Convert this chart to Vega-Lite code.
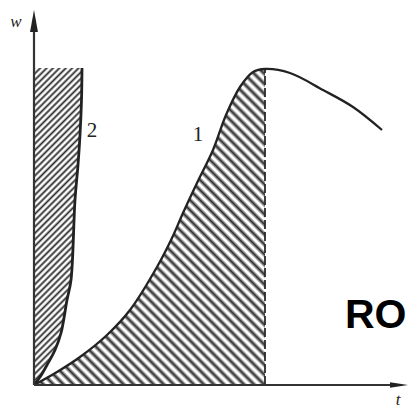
{
  "$schema": "https://vega.github.io/schema/vega-lite/v6.json",
  "width": 410,
  "height": 409,
  "autosize": {"type": "none"},
  "padding": 0,
  "background": "white",
  "config": {"view": {"stroke": null}, "axis": {"disable": true}},
  "params": [
    {
      "name": "hatch",
      "value": [
        {"offset":0,"color":"#2b2b2b"},{"offset":0.0067,"color":"#fff"},{"offset":0.01,"color":"#fff"},
        {"offset":0.0167,"color":"#2b2b2b"},{"offset":0.0233,"color":"#fff"},{"offset":0.0267,"color":"#fff"},
        {"offset":0.0333,"color":"#2b2b2b"},{"offset":0.04,"color":"#fff"},{"offset":0.0433,"color":"#fff"},
        {"offset":0.05,"color":"#2b2b2b"},{"offset":0.0567,"color":"#fff"},{"offset":0.06,"color":"#fff"},
        {"offset":0.0667,"color":"#2b2b2b"},{"offset":0.0733,"color":"#fff"},{"offset":0.0767,"color":"#fff"},
        {"offset":0.0833,"color":"#2b2b2b"},{"offset":0.09,"color":"#fff"},{"offset":0.0933,"color":"#fff"},
        {"offset":0.1,"color":"#2b2b2b"},{"offset":0.1067,"color":"#fff"},{"offset":0.11,"color":"#fff"},
        {"offset":0.1167,"color":"#2b2b2b"},{"offset":0.1233,"color":"#fff"},{"offset":0.1267,"color":"#fff"},
        {"offset":0.1333,"color":"#2b2b2b"},{"offset":0.14,"color":"#fff"},{"offset":0.1433,"color":"#fff"},
        {"offset":0.15,"color":"#2b2b2b"},{"offset":0.1567,"color":"#fff"},{"offset":0.16,"color":"#fff"},
        {"offset":0.1667,"color":"#2b2b2b"},{"offset":0.1733,"color":"#fff"},{"offset":0.1767,"color":"#fff"},
        {"offset":0.1833,"color":"#2b2b2b"},{"offset":0.19,"color":"#fff"},{"offset":0.1933,"color":"#fff"},
        {"offset":0.2,"color":"#2b2b2b"},{"offset":0.2067,"color":"#fff"},{"offset":0.21,"color":"#fff"},
        {"offset":0.2167,"color":"#2b2b2b"},{"offset":0.2233,"color":"#fff"},{"offset":0.2267,"color":"#fff"},
        {"offset":0.2333,"color":"#2b2b2b"},{"offset":0.24,"color":"#fff"},{"offset":0.2433,"color":"#fff"},
        {"offset":0.25,"color":"#2b2b2b"},{"offset":0.2567,"color":"#fff"},{"offset":0.26,"color":"#fff"},
        {"offset":0.2667,"color":"#2b2b2b"},{"offset":0.2733,"color":"#fff"},{"offset":0.2767,"color":"#fff"},
        {"offset":0.2833,"color":"#2b2b2b"},{"offset":0.29,"color":"#fff"},{"offset":0.2933,"color":"#fff"},
        {"offset":0.3,"color":"#2b2b2b"},{"offset":0.3067,"color":"#fff"},{"offset":0.31,"color":"#fff"},
        {"offset":0.3167,"color":"#2b2b2b"},{"offset":0.3233,"color":"#fff"},{"offset":0.3267,"color":"#fff"},
        {"offset":0.3333,"color":"#2b2b2b"},{"offset":0.34,"color":"#fff"},{"offset":0.3433,"color":"#fff"},
        {"offset":0.35,"color":"#2b2b2b"},{"offset":0.3567,"color":"#fff"},{"offset":0.36,"color":"#fff"},
        {"offset":0.3667,"color":"#2b2b2b"},{"offset":0.3733,"color":"#fff"},{"offset":0.3767,"color":"#fff"},
        {"offset":0.3833,"color":"#2b2b2b"},{"offset":0.39,"color":"#fff"},{"offset":0.3933,"color":"#fff"},
        {"offset":0.4,"color":"#2b2b2b"},{"offset":0.4067,"color":"#fff"},{"offset":0.41,"color":"#fff"},
        {"offset":0.4167,"color":"#2b2b2b"},{"offset":0.4233,"color":"#fff"},{"offset":0.4267,"color":"#fff"},
        {"offset":0.4333,"color":"#2b2b2b"},{"offset":0.44,"color":"#fff"},{"offset":0.4433,"color":"#fff"},
        {"offset":0.45,"color":"#2b2b2b"},{"offset":0.4567,"color":"#fff"},{"offset":0.46,"color":"#fff"},
        {"offset":0.4667,"color":"#2b2b2b"},{"offset":0.4733,"color":"#fff"},{"offset":0.4767,"color":"#fff"},
        {"offset":0.4833,"color":"#2b2b2b"},{"offset":0.49,"color":"#fff"},{"offset":0.4933,"color":"#fff"},
        {"offset":0.5,"color":"#2b2b2b"},{"offset":0.5067,"color":"#fff"},{"offset":0.51,"color":"#fff"},
        {"offset":0.5167,"color":"#2b2b2b"},{"offset":0.5233,"color":"#fff"},{"offset":0.5267,"color":"#fff"},
        {"offset":0.5333,"color":"#2b2b2b"},{"offset":0.54,"color":"#fff"},{"offset":0.5433,"color":"#fff"},
        {"offset":0.55,"color":"#2b2b2b"},{"offset":0.5567,"color":"#fff"},{"offset":0.56,"color":"#fff"},
        {"offset":0.5667,"color":"#2b2b2b"},{"offset":0.5733,"color":"#fff"},{"offset":0.5767,"color":"#fff"},
        {"offset":0.5833,"color":"#2b2b2b"},{"offset":0.59,"color":"#fff"},{"offset":0.5933,"color":"#fff"},
        {"offset":0.6,"color":"#2b2b2b"},{"offset":0.6067,"color":"#fff"},{"offset":0.61,"color":"#fff"},
        {"offset":0.6167,"color":"#2b2b2b"},{"offset":0.6233,"color":"#fff"},{"offset":0.6267,"color":"#fff"},
        {"offset":0.6333,"color":"#2b2b2b"},{"offset":0.64,"color":"#fff"},{"offset":0.6433,"color":"#fff"},
        {"offset":0.65,"color":"#2b2b2b"},{"offset":0.6567,"color":"#fff"},{"offset":0.66,"color":"#fff"},
        {"offset":0.6667,"color":"#2b2b2b"},{"offset":0.6733,"color":"#fff"},{"offset":0.6767,"color":"#fff"},
        {"offset":0.6833,"color":"#2b2b2b"},{"offset":0.69,"color":"#fff"},{"offset":0.6933,"color":"#fff"},
        {"offset":0.7,"color":"#2b2b2b"},{"offset":0.7067,"color":"#fff"},{"offset":0.71,"color":"#fff"},
        {"offset":0.7167,"color":"#2b2b2b"},{"offset":0.7233,"color":"#fff"},{"offset":0.7267,"color":"#fff"},
        {"offset":0.7333,"color":"#2b2b2b"},{"offset":0.74,"color":"#fff"},{"offset":0.7433,"color":"#fff"},
        {"offset":0.75,"color":"#2b2b2b"},{"offset":0.7567,"color":"#fff"},{"offset":0.76,"color":"#fff"},
        {"offset":0.7667,"color":"#2b2b2b"},{"offset":0.7733,"color":"#fff"},{"offset":0.7767,"color":"#fff"},
        {"offset":0.7833,"color":"#2b2b2b"},{"offset":0.79,"color":"#fff"},{"offset":0.7933,"color":"#fff"},
        {"offset":0.8,"color":"#2b2b2b"},{"offset":0.8067,"color":"#fff"},{"offset":0.81,"color":"#fff"},
        {"offset":0.8167,"color":"#2b2b2b"},{"offset":0.8233,"color":"#fff"},{"offset":0.8267,"color":"#fff"},
        {"offset":0.8333,"color":"#2b2b2b"},{"offset":0.84,"color":"#fff"},{"offset":0.8433,"color":"#fff"},
        {"offset":0.85,"color":"#2b2b2b"},{"offset":0.8567,"color":"#fff"},{"offset":0.86,"color":"#fff"},
        {"offset":0.8667,"color":"#2b2b2b"},{"offset":0.8733,"color":"#fff"},{"offset":0.8767,"color":"#fff"},
        {"offset":0.8833,"color":"#2b2b2b"},{"offset":0.89,"color":"#fff"},{"offset":0.8933,"color":"#fff"},
        {"offset":0.9,"color":"#2b2b2b"},{"offset":0.9067,"color":"#fff"},{"offset":0.91,"color":"#fff"},
        {"offset":0.9167,"color":"#2b2b2b"},{"offset":0.9233,"color":"#fff"},{"offset":0.9267,"color":"#fff"},
        {"offset":0.9333,"color":"#2b2b2b"},{"offset":0.94,"color":"#fff"},{"offset":0.9433,"color":"#fff"},
        {"offset":0.95,"color":"#2b2b2b"},{"offset":0.9567,"color":"#fff"},{"offset":0.96,"color":"#fff"},
        {"offset":0.9667,"color":"#2b2b2b"},{"offset":0.9733,"color":"#fff"},{"offset":0.9767,"color":"#fff"},
        {"offset":0.9833,"color":"#2b2b2b"},{"offset":0.99,"color":"#fff"},{"offset":0.9933,"color":"#fff"},
        {"offset":1,"color":"#2b2b2b"}
      ]
    }
  ],
  "datasets": {
    "curve1": [
      {"t":0,"w":0},{"t":2.3,"w":1.3},{"t":4.6,"w":2.8},{"t":7.3,"w":5.0},
      {"t":9.6,"w":7.5},{"t":12.3,"w":11.8},{"t":13.8,"w":14.7},{"t":14.9,"w":17.2},
      {"t":16.3,"w":20.2},{"t":17.9,"w":23.5},{"t":19.2,"w":27.0},{"t":20.6,"w":29.8},
      {"t":21.9,"w":31.3},{"t":23.1,"w":31.6},{"t":25.6,"w":31.2},{"t":28.9,"w":29.5},
      {"t":31.9,"w":27.8},{"t":34.8,"w":25.5}
    ],
    "curve2": [
      {"t":0,"w":0},{"t":0.6,"w":0.8},{"t":1.3,"w":2.0},{"t":2.1,"w":3.5},
      {"t":2.7,"w":5.2},{"t":3.3,"w":8.5},{"t":3.7,"w":10.5},{"t":4.1,"w":18.5},
      {"t":4.4,"w":22.0},{"t":4.6,"w":25.0},{"t":4.75,"w":28.5},{"t":4.8,"w":31.7}
    ],
    "one": [{}]
  },
  "layer": [
    {
      "data": {"name": "curve1"},
      "transform": [{"filter": "datum.t <= 23.1"}],
      "mark": {
        "type": "area",
        "interpolate": "catmull-rom",
        "fill": {"expr": "{gradient: 'linear', x1: 0, y1: 1, x2: 0.9075, y2: -0.2408, stops: hatch}"},
        "fillOpacity": 1
      },
      "encoding": {
        "x": {"field": "t", "type": "quantitative", "axis": null,
              "scale": {"domain": [-3.4, 37.6], "nice": false, "zero": false}},
        "y": {"field": "w", "type": "quantitative", "axis": null,
              "scale": {"domain": [-2.4, 38.5], "nice": false, "zero": false}},
        "y2": {"datum": 0}
      }
    },
    {
      "data": {"name": "curve2"},
      "mark": {
        "type": "area",
        "orient": "horizontal",
        "interpolate": "catmull-rom",
        "fill": {"expr": "{gradient: 'linear', x1: 0, y1: 0, x2: 0.1789, y2: 1.182, stops: hatch}"},
        "fillOpacity": 1
      },
      "encoding": {
        "y": {"field": "w", "type": "quantitative", "axis": null},
        "x": {"field": "t", "type": "quantitative", "axis": null},
        "x2": {"datum": 0}
      }
    },
    {
      "data": {"name": "one"},
      "mark": {"type": "rule", "color": "#2a2a2a", "strokeWidth": 1.8, "strokeDash": [9, 3]},
      "encoding": {"x": {"datum": 23.1}, "y": {"datum": 0}, "y2": {"datum": 31.6}}
    },
    {
      "data": {"name": "curve1"},
      "mark": {"type": "line", "interpolate": "catmull-rom", "color": "#222", "strokeWidth": 2.3},
      "encoding": {
        "x": {"field": "t", "type": "quantitative", "axis": null},
        "y": {"field": "w", "type": "quantitative", "axis": null}
      }
    },
    {
      "data": {"name": "curve2"},
      "mark": {"type": "line", "interpolate": "catmull-rom", "color": "#222", "strokeWidth": 2.8},
      "encoding": {
        "x": {"field": "t", "type": "quantitative", "axis": null},
        "y": {"field": "w", "type": "quantitative", "axis": null},
        "order": {"field": "w", "type": "quantitative"}
      }
    },
    {
      "data": {"name": "one"},
      "mark": {"type": "rule", "color": "#333", "strokeWidth": 2.2},
      "encoding": {"x": {"datum": 0}, "y": {"datum": 0}, "y2": {"datum": 36}}
    },
    {
      "data": {"name": "one"},
      "mark": {"type": "rule", "color": "#333", "strokeWidth": 2.2},
      "encoding": {"y": {"datum": 0}, "x": {"datum": 0}, "x2": {"datum": 36}}
    },
    {
      "data": {"name": "one"},
      "mark": {"type": "point", "filled": true, "color": "#222", "opacity": 1,
               "shape": "M0,-1L0.36,1L-0.36,1Z", "size": 484},
      "encoding": {"x": {"datum": 0}, "y": {"datum": 36.4}}
    },
    {
      "data": {"name": "one"},
      "mark": {"type": "point", "filled": true, "color": "#222", "opacity": 1,
               "shape": "M1,0L-1,0.3L-1,-0.3Z", "size": 324},
      "encoding": {"x": {"datum": 36.5}, "y": {"datum": 0}}
    },
    {
      "data": {"name": "one"},
      "mark": {"type": "text", "text": "w", "font": "Liberation Serif", "fontStyle": "italic",
               "fontSize": 17, "color": "#222", "align": "center", "baseline": "middle"},
      "encoding": {"x": {"datum": -1.8}, "y": {"datum": 36.3}}
    },
    {
      "data": {"name": "one"},
      "mark": {"type": "text", "text": "t", "font": "Liberation Serif", "fontStyle": "italic",
               "fontSize": 17, "color": "#222", "align": "center", "baseline": "middle"},
      "encoding": {"x": {"datum": 36.4}, "y": {"datum": -1.5}}
    },
    {
      "data": {"name": "one"},
      "mark": {"type": "text", "text": "1", "font": "Liberation Serif",
               "fontSize": 21, "color": "#222", "align": "center", "baseline": "middle"},
      "encoding": {"x": {"datum": 16.4}, "y": {"datum": 25.0}}
    },
    {
      "data": {"name": "one"},
      "mark": {"type": "text", "text": "2", "font": "Liberation Serif",
               "fontSize": 21, "color": "#222", "align": "center", "baseline": "middle"},
      "encoding": {"x": {"datum": 5.8}, "y": {"datum": 25.4}}
    },
    {
      "data": {"name": "one"},
      "mark": {"type": "text", "text": "RO", "font": "Liberation Sans", "fontWeight": "bold",
               "fontSize": 41, "color": "#000", "align": "left", "baseline": "alphabetic"},
      "encoding": {"x": {"datum": 31.1}, "y": {"datum": 5.7}}
    }
  ]
}
